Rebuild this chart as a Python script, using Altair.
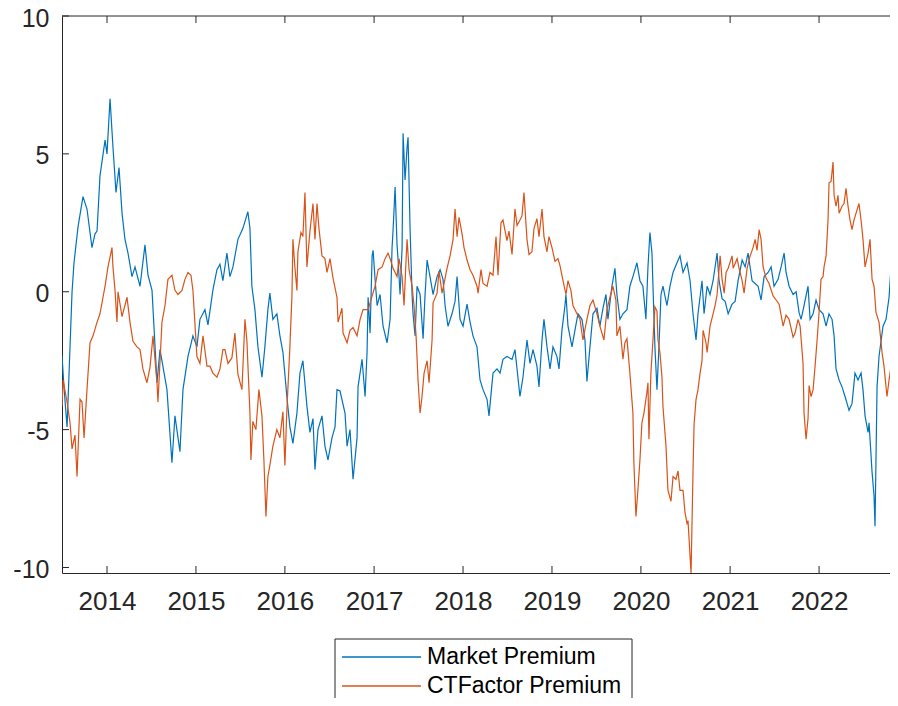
import altair as alt
import pandas as pd
import numpy as np

# ---------------- data (decimal years, premium values) ----------------
market_years = [
    2013.494, 2013.517, 2013.551, 2013.607, 2013.629, 2013.674, 2013.730, 2013.775, 2013.831, 2013.865,
    2013.888, 2013.921, 2013.978, 2014.000, 2014.034, 2014.067, 2014.101, 2014.135, 2014.169, 2014.202,
    2014.236, 2014.281, 2014.315, 2014.371, 2014.427, 2014.461, 2014.506, 2014.562, 2014.596, 2014.674,
    2014.730, 2014.764, 2014.820, 2014.854, 2014.910, 2014.966, 2015.011, 2015.045, 2015.101, 2015.135,
    2015.191, 2015.236, 2015.270, 2015.303, 2015.348, 2015.382, 2015.416, 2015.472, 2015.528, 2015.584,
    2015.607, 2015.629, 2015.663, 2015.697, 2015.742, 2015.775, 2015.809, 2015.831, 2015.865, 2015.910,
    2015.944, 2015.978, 2016.022, 2016.056, 2016.090, 2016.135, 2016.169, 2016.202, 2016.247, 2016.281,
    2016.315, 2016.337, 2016.371, 2016.416, 2016.449, 2016.483, 2016.528, 2016.562, 2016.584, 2016.618,
    2016.674, 2016.697, 2016.730, 2016.764, 2016.809, 2016.820, 2016.865, 2016.899, 2016.921, 2016.933,
    2016.955, 2016.978, 2016.989, 2017.011, 2017.034, 2017.067, 2017.101, 2017.146, 2017.180, 2017.202,
    2017.213, 2017.236, 2017.258, 2017.270, 2017.292, 2017.315, 2017.326, 2017.348, 2017.371, 2017.382,
    2017.404, 2017.427, 2017.438, 2017.461, 2017.483, 2017.517, 2017.551, 2017.573, 2017.596, 2017.629,
    2017.663, 2017.708, 2017.742, 2017.775, 2017.798, 2017.831, 2017.876, 2017.910, 2017.933, 2017.966,
    2018.000, 2018.045, 2018.079, 2018.112, 2018.157, 2018.191, 2018.225, 2018.270, 2018.292, 2018.337,
    2018.382, 2018.416, 2018.449, 2018.494, 2018.551, 2018.584, 2018.640, 2018.674, 2018.719, 2018.753,
    2018.787, 2018.831, 2018.854, 2018.888, 2018.910, 2018.944, 2018.978, 2019.011, 2019.056, 2019.079,
    2019.112, 2019.146, 2019.157, 2019.180, 2019.225, 2019.258, 2019.292, 2019.337, 2019.371, 2019.393,
    2019.427, 2019.461, 2019.506, 2019.539, 2019.573, 2019.607, 2019.629, 2019.674, 2019.708, 2019.730,
    2019.764, 2019.798, 2019.843, 2019.876, 2019.910, 2019.955, 2019.989, 2020.022, 2020.056, 2020.079,
    2020.101, 2020.124, 2020.135, 2020.157, 2020.180, 2020.202, 2020.225, 2020.247, 2020.292, 2020.326,
    2020.360, 2020.404, 2020.438, 2020.472, 2020.517, 2020.551, 2020.584, 2020.618, 2020.640, 2020.685,
    2020.708, 2020.742, 2020.775, 2020.809, 2020.854, 2020.876, 2020.910, 2020.944, 2020.978, 2021.022,
    2021.056, 2021.090, 2021.135, 2021.169, 2021.202, 2021.247, 2021.281, 2021.315, 2021.348, 2021.382,
    2021.427, 2021.461, 2021.494, 2021.539, 2021.573, 2021.607, 2021.629, 2021.663, 2021.708, 2021.742,
    2021.775, 2021.798, 2021.831, 2021.876, 2021.899, 2021.933, 2021.966, 2022.000, 2022.045, 2022.079,
    2022.112, 2022.146, 2022.169, 2022.191, 2022.225, 2022.258, 2022.292, 2022.337, 2022.371, 2022.404,
    2022.438, 2022.472, 2022.494, 2022.517, 2022.551, 2022.562, 2022.596, 2022.618, 2022.629, 2022.652,
    2022.674, 2022.719, 2022.753, 2022.787, 2022.809, 2022.831, 2022.854, 2022.876,
]
market_values = [
    -2.3, -3.5, -4.9, 0.0, 1.05, 2.35, 3.45, 3.0, 1.6, 2.1,
    2.2, 4.2, 5.5, 5.0, 7.0, 5.25, 3.6, 4.5, 2.85, 1.9,
    1.4, 0.55, 0.9, 0.2, 1.7, 0.6, 0.05, -3.3, -2.1, -3.55,
    -6.2, -4.5, -5.8, -3.55, -2.35, -1.6, -2.0, -1.0, -0.65, -1.2,
    0.07, 0.8, 1.0, 0.4, 1.4, 0.55, 0.9, 1.9, 2.3, 2.9,
    2.3, 0.2, -0.65, -2.0, -3.1, -2.0, -0.65, -0.05, -1.0, -0.8,
    -1.6, -2.2, -3.8, -4.9, -5.5, -4.4, -2.95, -2.5, -4.15, -5.1,
    -4.6, -6.45, -5.0, -4.5, -5.6, -6.1, -5.3, -4.9, -3.55, -3.6,
    -4.4, -5.6, -5.0, -6.8, -5.3, -3.45, -2.45, -3.8, -2.2, -0.2,
    -1.5, 1.3, 1.5, 0.45, -0.5, -0.1, -1.25, -1.85, -1.0, 1.6,
    2.2, 3.8, 1.7, 1.15, -0.1, 1.6, 5.75, 4.05, 5.25, 5.6,
    2.35, -0.1, -0.8, -1.6, 0.2, -0.1, -1.7, -0.1, 1.15, 0.55,
    -0.1, 0.55, 0.8, 0.45, -0.5, -1.25, -0.8, -0.35, 0.55, -1.0,
    -1.25, -0.45, -1.1, -1.6, -2.0, -3.2, -3.55, -3.9, -4.5, -2.95,
    -2.8, -2.95, -2.45, -2.35, -2.45, -2.1, -3.8, -3.1, -1.75, -2.6,
    -2.1, -2.7, -3.45, -1.75, -1.0, -2.0, -2.8, -2.0, -2.35, -2.8,
    -1.4, -0.5, -0.1, -1.25, -2.0, -1.4, -0.8, -1.0, -1.75, -3.25,
    -2.0, -0.8, -0.6, -1.25, -0.6, -0.1, -1.0, 0.2, 0.85, -0.1,
    -1.0, -0.8, -0.65, 0.2, 0.55, 1.05, 0.4, 0.2, -1.0, 0.9,
    2.15, 1.4, 0.2, -2.0, -3.55, -2.0, -0.1, 0.2, -0.5, 0.2,
    0.7, 1.05, 1.3, 0.7, 1.05, 0.4, -0.8, -1.75, -0.8, 0.4,
    -0.8, 0.2, -0.1, 0.4, 1.4, 0.4, -0.25, -0.35, -0.8, -0.45,
    -0.35, 0.4, 1.15, 0.9, 1.4, 0.4, 0.3, 0.2, -0.3, 0.55,
    0.7, 0.9, 0.2, 0.45, 0.9, 1.4, 0.7, 0.2, -0.1, 0.0,
    -0.75, -1.0, -0.5, 0.2, -1.0, -0.8, -0.3, -0.65, -0.8, -1.25,
    -0.8, -1.0, -1.6, -2.8, -3.2, -3.45, -3.8, -4.3, -4.05, -2.95,
    -3.2, -2.95, -3.55, -4.5, -5.1, -4.75, -6.55, -7.4, -8.5, -3.45,
    -2.35, -1.25, -1.0, -0.2, 0.9, 1.3, 1.4, -0.1,
]

ctf_years = [
    2013.494, 2013.506, 2013.551, 2013.584, 2013.607, 2013.640, 2013.663, 2013.697, 2013.719, 2013.742,
    2013.775, 2013.809, 2013.843, 2013.888, 2013.921, 2013.955, 2013.978, 2014.011, 2014.056, 2014.067,
    2014.090, 2014.112, 2014.124, 2014.169, 2014.225, 2014.258, 2014.292, 2014.337, 2014.371, 2014.404,
    2014.449, 2014.483, 2014.517, 2014.562, 2014.573, 2014.618, 2014.652, 2014.685, 2014.730, 2014.764,
    2014.798, 2014.843, 2014.876, 2014.910, 2014.944, 2014.966, 2015.011, 2015.045, 2015.079, 2015.124,
    2015.157, 2015.191, 2015.236, 2015.270, 2015.303, 2015.326, 2015.360, 2015.404, 2015.438, 2015.472,
    2015.517, 2015.551, 2015.573, 2015.607, 2015.618, 2015.640, 2015.674, 2015.708, 2015.742, 2015.764,
    2015.787, 2015.809, 2015.831, 2015.865, 2015.910, 2015.944, 2015.978, 2016.000, 2016.022, 2016.056,
    2016.079, 2016.090, 2016.112, 2016.135, 2016.146, 2016.180, 2016.202, 2016.225, 2016.247, 2016.281,
    2016.315, 2016.337, 2016.360, 2016.382, 2016.416, 2016.449, 2016.472, 2016.506, 2016.539, 2016.584,
    2016.596, 2016.640, 2016.652, 2016.697, 2016.730, 2016.764, 2016.809, 2016.843, 2016.876, 2016.933,
    2016.978, 2017.011, 2017.045, 2017.090, 2017.124, 2017.157, 2017.180, 2017.213, 2017.258, 2017.281,
    2017.315, 2017.337, 2017.360, 2017.371, 2017.393, 2017.427, 2017.449, 2017.472, 2017.494, 2017.517,
    2017.539, 2017.562, 2017.596, 2017.618, 2017.652, 2017.663, 2017.708, 2017.730, 2017.764, 2017.787,
    2017.820, 2017.854, 2017.888, 2017.910, 2017.933, 2017.955, 2017.989, 2018.011, 2018.045, 2018.079,
    2018.112, 2018.157, 2018.169, 2018.202, 2018.225, 2018.270, 2018.303, 2018.337, 2018.371, 2018.393,
    2018.427, 2018.449, 2018.494, 2018.517, 2018.551, 2018.584, 2018.607, 2018.640, 2018.663, 2018.685,
    2018.719, 2018.742, 2018.775, 2018.798, 2018.831, 2018.854, 2018.888, 2018.910, 2018.944, 2018.966,
    2019.000, 2019.034, 2019.067, 2019.090, 2019.124, 2019.157, 2019.180, 2019.213, 2019.236, 2019.281,
    2019.315, 2019.348, 2019.393, 2019.427, 2019.461, 2019.506, 2019.539, 2019.584, 2019.618, 2019.652,
    2019.685, 2019.719, 2019.730, 2019.764, 2019.798, 2019.820, 2019.843, 2019.876, 2019.910, 2019.921,
    2019.944, 2019.966, 2019.989, 2020.011, 2020.034, 2020.067, 2020.079, 2020.090, 2020.112, 2020.135,
    2020.157, 2020.180, 2020.191, 2020.213, 2020.236, 2020.247, 2020.281, 2020.303, 2020.337, 2020.360,
    2020.393, 2020.416, 2020.438, 2020.472, 2020.494, 2020.517, 2020.528, 2020.551, 2020.562, 2020.584,
    2020.596, 2020.618, 2020.640, 2020.663, 2020.685, 2020.697, 2020.730, 2020.742, 2020.775, 2020.809,
    2020.831, 2020.854, 2020.888, 2020.910, 2020.933, 2020.955, 2020.978, 2021.022, 2021.034, 2021.079,
    2021.101, 2021.135, 2021.157, 2021.191, 2021.225, 2021.258, 2021.281, 2021.303, 2021.326, 2021.348,
    2021.371, 2021.404, 2021.438, 2021.483, 2021.517, 2021.551, 2021.596, 2021.629, 2021.663, 2021.708,
    2021.730, 2021.764, 2021.787, 2021.820, 2021.831, 2021.854, 2021.876, 2021.888, 2021.910, 2021.933,
    2021.955, 2021.978, 2022.000, 2022.022, 2022.045, 2022.056, 2022.079, 2022.101, 2022.112, 2022.135,
    2022.157, 2022.169, 2022.191, 2022.213, 2022.225, 2022.258, 2022.281, 2022.303, 2022.326, 2022.348,
    2022.371, 2022.393, 2022.416, 2022.449, 2022.472, 2022.494, 2022.517, 2022.551, 2022.573, 2022.596,
    2022.618, 2022.640, 2022.674, 2022.685, 2022.708, 2022.730, 2022.764, 2022.787, 2022.809, 2022.831,
    2022.843, 2022.865, 2022.876,
]
ctf_values = [
    -4.15, -3.2, -4.0, -4.75, -5.7, -5.2, -6.7, -3.9, -4.0, -5.3,
    -3.55, -1.85, -1.6, -1.1, -0.8, -0.2, 0.2, 0.9, 1.6, 0.9,
    0.05, -1.1, 0.0, -0.9, -0.2, -1.1, -1.8, -2.0, -2.1, -2.8,
    -3.3, -2.75, -1.6, -3.3, -4.0, -1.1, -0.5, 0.45, 0.6, 0.05,
    -0.1, 0.05, 0.45, 0.7, 0.6, 0.05, -2.35, -2.6, -1.6, -2.7,
    -2.7, -2.95, -3.1, -2.8, -2.1, -2.1, -2.6, -2.4, -1.5, -3.0,
    -3.55, -1.0, -1.8, -4.4, -6.1, -4.7, -5.0, -3.55, -4.5, -6.1,
    -8.15, -6.7, -6.3, -5.6, -5.0, -5.3, -4.35, -6.3, -4.3, -2.0,
    -0.15, 1.9, 0.9, 0.05, 1.45, 2.15, 2.0, 3.6, 0.9, 2.2,
    3.2, 1.9, 3.2, 2.3, 1.3, 1.2, 0.7, 1.2, 0.5, -0.2,
    -1.1, -0.6, -1.5, -1.85, -1.4, -1.3, -1.6, -1.0, -0.65, -0.65,
    -0.15, 0.2, 0.8, 0.9, 1.2, 1.4, 1.2, 0.85, 0.55, 1.2,
    0.55, -0.5, 1.2, 1.9, 0.8, 0.2, -0.5, -1.6, -3.2, -4.4,
    -3.8, -2.95, -2.5, -3.3, -1.75, -0.4, -0.05, 0.75, -0.05, 0.3,
    0.85, 1.3, 1.9, 3.0, 2.0, 2.7, 2.1, 1.6, 1.15, 0.8,
    0.6, 0.2, -0.05, 0.8, 0.3, 0.2, 0.7, 0.6, 2.0, 0.6,
    2.5, 2.6, 1.85, 2.2, 1.35, 3.0, 2.4, 2.6, 2.75, 3.6,
    1.9, 1.35, 1.45, 2.3, 2.65, 2.0, 3.0, 2.0, 1.45, 2.0,
    1.6, 1.1, 1.2, 0.95, 0.4, -0.1, 0.4, 0.05, -0.5, -0.8,
    -1.0, -1.75, -1.0, -0.5, -0.3, -0.8, -1.25, -1.75, -0.65, -0.2,
    0.2, -0.3, -1.6, -1.25, -2.45, -1.85, -1.7, -2.95, -4.4, -6.2,
    -8.15, -7.2, -6.1, -4.75, -4.4, -3.65, -3.3, -5.35, -2.95, -1.75,
    -0.55, -0.7, -1.75, -2.2, -3.1, -4.15, -5.6, -7.2, -7.6, -6.7,
    -6.8, -6.5, -7.2, -7.2, -8.0, -8.4, -8.3, -9.6, -10.2, -6.5,
    -4.8, -3.9, -3.55, -2.95, -2.5, -1.4, -1.85, -2.2, -1.25, -0.8,
    -0.5, -0.1, 1.3, 0.45, -0.05, 0.7, 0.85, 1.3, 0.85, 1.2,
    0.85, 0.4, -0.05, 0.85, 1.3, 1.6, 1.9, 1.5, 2.25, 1.9,
    0.9, 0.5, 0.3, -0.15, -0.3, -0.45, -1.25, -0.85, -1.0, -1.65,
    -1.5, -1.0, -1.25, -2.6, -4.4, -5.35, -4.6, -3.4, -3.8, -3.55,
    -2.7, -1.75, -0.75, 0.45, 0.55, 0.9, 1.3, 2.6, 3.95, 4.0,
    4.7, 3.5, 3.1, 3.5, 2.85, 3.1, 3.2, 3.75, 3.1, 2.6,
    2.25, 2.6, 2.85, 3.2, 2.6, 1.9, 0.9, 1.4, 1.9, 0.45,
    0.2, -0.75, -1.1, -1.45, -2.2, -2.7, -3.8, -3.2, -2.7, -2.1,
    -2.35, -3.2, -4.0,
]

series_names = ["Market Premium", "CTFactor Premium"]
series_colors = ["#0072BD", "#D95319"]
tick_years = [2014, 2015, 2016, 2017, 2018, 2019, 2020, 2021, 2022]
y_ticks = [-10, -5, 0, 5, 10]
x_range_years = [2013.494, 2022.910]
y_range = [-10.2, 10]


def dec_to_ms(y):
    yr = int(np.floor(y))
    frac = y - yr
    s = pd.Timestamp(year=yr, month=1, day=1, tz="UTC")
    e = pd.Timestamp(year=yr + 1, month=1, day=1, tz="UTC")
    return int((s + (e - s) * frac).value // 10**6)


df_m = pd.DataFrame({"t": [dec_to_ms(v) for v in market_years], "v": market_values})
df_c = pd.DataFrame({"t": [dec_to_ms(v) for v in ctf_years], "v": ctf_values})
df_xt = pd.DataFrame({"t": [dec_to_ms(float(y)) for y in tick_years]})
df_yt = pd.DataFrame({"v": y_ticks})
df_one = pd.DataFrame({"a": [0]})
df_leg = pd.DataFrame({"name": series_names})

W, H = 828, 557      # visible plot area (page is 898 px wide)
XR = 838             # full axis length; right end lies just past the page edge
FONT = "Liberation Sans"
AX = "#262626"

xscale = alt.Scale(type="utc", domain=[dec_to_ms(x_range_years[0]), dec_to_ms(x_range_years[1])],
                   range=[0, XR])
yscale = alt.Scale(domain=y_range, nice=False, zero=False)

xaxis = alt.Axis(values=[dec_to_ms(float(y)) for y in tick_years], format="%Y",
                 labelFontSize=26, labelFont=FONT, labelColor=AX, labelPadding=15,
                 ticks=False, domain=True, domainColor=AX, domainWidth=1, grid=False,
                 labelFlush=False, labelOverlap=False, title=None)
yaxis = alt.Axis(values=y_ticks, labelExpr="'' + datum.value",
                 labelFontSize=25, labelFont=FONT, labelColor=AX, labelPadding=13,
                 labelOffset=2,
                 ticks=False, domain=True, domainColor=AX, domainWidth=1, grid=False, title=None)

market = alt.Chart(df_m).mark_line(color=series_colors[0], strokeWidth=1.2, clip=True).encode(
    x=alt.X("t:T", scale=xscale, axis=xaxis),
    y=alt.Y("v:Q", scale=yscale, axis=yaxis),
)
ctf = alt.Chart(df_c).mark_line(color=series_colors[1], strokeWidth=1.2, clip=True).encode(
    x=alt.X("t:T", scale=xscale),
    y=alt.Y("v:Q", scale=yscale),
)

xt_bottom = alt.Chart(df_xt).mark_rule(color=AX, strokeWidth=1).encode(
    x=alt.X("t:T", scale=xscale), y=alt.value(H), y2=alt.value(H - 7))
xt_top = alt.Chart(df_xt).mark_rule(color=AX, strokeWidth=1).encode(
    x=alt.X("t:T", scale=xscale), y=alt.value(0), y2=alt.value(7))
yt_left = alt.Chart(df_yt).mark_rule(color=AX, strokeWidth=1).encode(
    y=alt.Y("v:Q", scale=yscale), x=alt.value(0), x2=alt.value(7))
top_border = alt.Chart(df_one).mark_rule(color=AX, strokeWidth=1).encode(
    x=alt.value(0), x2=alt.value(XR), y=alt.value(0))

# legend (manual, MATLAB style, below the axes)
leg_box = alt.Chart(df_one).mark_rect(fill="white", stroke=AX, strokeWidth=1).encode(
    x=alt.value(273), x2=alt.value(570), y=alt.value(623), y2=alt.value(720))
leg_layers = [leg_box]
for i, (name, col) in enumerate(zip(series_names, series_colors)):
    yy = 641 + 29 * i
    d = df_leg[df_leg["name"] == name]
    leg_layers.append(alt.Chart(d).mark_rule(color=col, strokeWidth=1.4).encode(
        x=alt.value(280), x2=alt.value(359), y=alt.value(yy)))
    leg_layers.append(alt.Chart(d).mark_text(align="left", baseline="middle", font=FONT,
                                             fontSize=23, color="#000000").encode(
        x=alt.value(365), y=alt.value(yy), text="name:N"))

chart = alt.layer(market, ctf, xt_bottom, xt_top, yt_left, top_border, *leg_layers).properties(
    width=W, height=H, autosize="none",
    padding={"left": 54, "top": 8, "right": 0, "bottom": 125},
    background="white",
).configure_view(stroke=None)

chart.save("out.html", embed_options={"renderer": "svg", "actions": False})
